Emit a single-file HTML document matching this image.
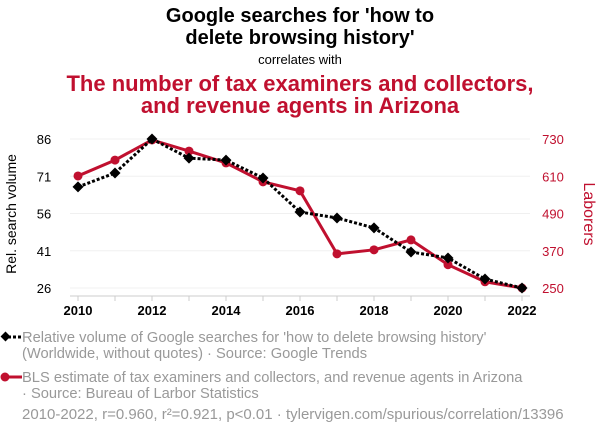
<!DOCTYPE html>
<html><head><meta charset="utf-8"><style>
body{margin:0;background:#fff;font-family:"Liberation Sans",sans-serif;}
svg text{font-family:"Liberation Sans",sans-serif;}
</style></head><body>
<svg width="600" height="436" xmlns="http://www.w3.org/2000/svg">
<g>
<text x="300" y="22" text-anchor="middle" font-size="20" font-weight="bold" fill="#000">Google searches for 'how to</text>
<text x="300" y="44" text-anchor="middle" font-size="20" font-weight="bold" fill="#000">delete browsing history'</text>
<text x="300" y="64" text-anchor="middle" font-size="13" fill="#000">correlates with</text>
<text x="300" y="91" text-anchor="middle" font-size="22" font-weight="bold" fill="#c0102f">The number of tax examiners and collectors,</text>
<text x="300" y="113" text-anchor="middle" font-size="22" font-weight="bold" fill="#c0102f">and revenue agents in Arizona</text>
</g>
<g id="grid"></g><g id="axes"></g><g id="series"></g>
<text transform="translate(16,214) rotate(-90)" text-anchor="middle" font-size="14" fill="#000">Rel. search volume</text>
<text transform="translate(584,214) rotate(90)" text-anchor="middle" font-size="16" fill="#c0102f">Laborers</text>
<g>
<g>
<line x1="3" y1="337" x2="22" y2="337" stroke="#000" stroke-width="3" stroke-dasharray="3,2"/>
<rect x="2" y="333" width="7" height="7" transform="rotate(45 5.5 336.5)" fill="#000"/>
<text x="22" y="342" font-size="14.7" fill="#999">Relative volume of Google searches for 'how to delete browsing history'</text>
<text x="22" y="358" font-size="14.7" fill="#999">(Worldwide, without quotes) · Source: Google Trends</text>
</g>
<g>
<line x1="3" y1="377" x2="22" y2="377" stroke="#c0102f" stroke-width="3"/>
<circle cx="5" cy="377" r="4.5" fill="#c0102f"/>
<text x="22" y="382" font-size="14.7" fill="#999">BLS estimate of tax examiners and collectors, and revenue agents in Arizona</text>
<text x="22" y="398" font-size="14.7" fill="#999">· Source: Bureau of Larbor Statistics</text>
</g>
<text x="22" y="419" font-size="15" fill="#999">2010-2022, r=0.960, r²=0.921, p&lt;0.01 · tylervigen.com/spurious/correlation/13396</text>
</g>
</svg>
<script>
const years=[2010,2011,2012,2013,2014,2015,2016,2017,2018,2019,2020,2021,2022];
const googleValues=[66.7,72.3,86,78.3,77.5,70.3,56.6,54.2,50.2,40.5,38.1,29.6,26];
const laborValues=[611,662,727,691,653,592,563,360,373,405,325,270,250];
const leftTicks=[26,41,56,71,86];
const rightTicks=[250,370,490,610,730];
const xTicks=[2010,2012,2014,2016,2018,2020,2022];
const NS="http://www.w3.org/2000/svg";
const x=v=>78+(v-2010)*(444/12);
const yL=v=>288-(v-26)*(149/60);
const yR=v=>288-(v-250)*(149/480);
function mk(p,t,a){const e=document.createElementNS(NS,t);for(const k in a)e.setAttribute(k,a[k]);p.appendChild(e);return e;}
const grid=document.getElementById('grid'),axes=document.getElementById('axes'),ser=document.getElementById('series');
leftTicks.forEach(t=>{
 const g=mk(grid,'line',{x1:70,x2:530,y1:yL(t),y2:yL(t),stroke:'#f0f0f0','stroke-width':1});
 
 
 const l=mk(axes,'text',{x:44,y:yL(t)+5,'text-anchor':'middle','font-size':13,fill:'#000'});l.textContent=t;
 
 
});
rightTicks.forEach(t=>{
 const l=mk(axes,'text',{x:553,y:yR(t)+5,'text-anchor':'middle','font-size':13,fill:'#c0102f'});l.textContent=t;
 
 
});
const ax=mk(axes,'line',{x1:70,x2:530,y1:296,y2:296,stroke:'#ccc'});


years.forEach(yr=>{mk(axes,'line',{x1:x(yr),x2:x(yr),y1:296,y2:301,stroke:'#ccc'});});
xTicks.forEach(yr=>{
 const l=mk(axes,'text',{x:x(yr),y:315,'text-anchor':'middle','font-size':13,'font-weight':'bold',fill:'#000'});l.textContent=yr;
 
 
});
const rp=mk(ser,'polyline',{points:years.map((y,i)=>x(y)+','+yR(laborValues[i])).join(' '),fill:'none',stroke:'#c0102f','stroke-width':3});


years.forEach((y,i)=>{
 const c=mk(ser,'circle',{cx:x(y),cy:yR(laborValues[i]),r:4.5,fill:'#c0102f'});
 
 
});
const gp=mk(ser,'polyline',{points:years.map((y,i)=>x(y)+','+yL(googleValues[i])).join(' '),fill:'none',stroke:'#000','stroke-width':3,'stroke-dasharray':'3,2'});


years.forEach((y,i)=>{
 const cx=x(y),cy=yL(googleValues[i]);
 const d=mk(ser,'polygon',{points:`${cx},${cy-5.5} ${cx+5.5},${cy} ${cx},${cy+5.5} ${cx-5.5},${cy}`,fill:'#000'});
 
 
});
</script>
</body></html>
